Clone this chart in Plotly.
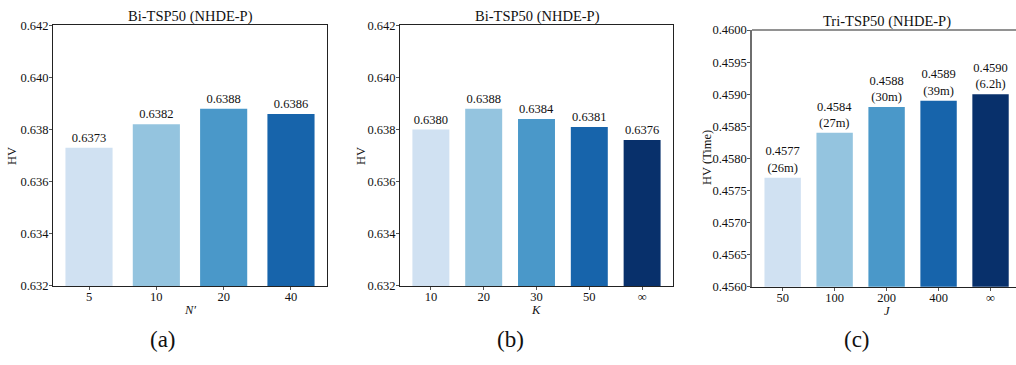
import plotly.graph_objects as go

# ---- data ----
cats_a = ["5", "10", "20", "40"]
hv_a = [0.6373, 0.6382, 0.6388, 0.6386]

cats_b = ["10", "20", "30", "50", "∞"]
hv_b = [0.6380, 0.6388, 0.6384, 0.6381, 0.6376]

cats_c = ["50", "100", "200", "400", "∞"]
hv_c = [0.4577, 0.4584, 0.4588, 0.4589, 0.4590]
time_c = ["26m", "27m", "30m", "39m", "6.2h"]

blues = ["#d0e1f2", "#94c4df", "#4a98c9", "#1764ab", "#08306b"]

W, H = 1016, 365
FONT = "Liberation Serif, Times New Roman, serif"

def px(x):
    return x / W

def py(y):
    return 1 - y / H

fig = go.Figure()

def add_bars(xaxis, yaxis, cats, vals, labels, colors):
    fig.add_trace(go.Bar(
        x=list(range(len(cats))), y=vals, width=0.7,
        marker=dict(color=colors, line=dict(width=0)),
        text=labels, textposition="outside", constraintext="none",
        cliponaxis=False,
        textfont=dict(family=FONT, size=12.5, color="#111"),
        xaxis=xaxis, yaxis=yaxis, showlegend=False, hoverinfo="skip",
    ))

add_bars("x", "y", cats_a, hv_a, [f"{v:.4f}" for v in hv_a], blues[:4])
add_bars("x2", "y2", cats_b, hv_b, [f"{v:.4f}" for v in hv_b], blues)
add_bars("x3", "y3", cats_c, hv_c,
         [f"{v:.4f}<br>({t})" for v, t in zip(hv_c, time_c)], blues)

tickfont = dict(family=FONT, size=12.5, color="#111")

def xax(domain, anchor, cats, rng, color, mirror=True):
    return dict(domain=domain, anchor=anchor, range=rng,
                tickmode="array", tickvals=list(range(len(cats))), ticktext=cats,
                showline=True, linecolor=color, linewidth=1, mirror=mirror,
                ticks="outside", ticklen=3, tickcolor="#555", tickwidth=1,
                showgrid=False, zeroline=False, tickfont=tickfont,
                ticklabelstandoff=-4, fixedrange=True)

def yax(domain, anchor, rng, dtick, fmt, color, mirror=True, width=1):
    return dict(domain=domain, anchor=anchor, range=rng, dtick=dtick, tick0=rng[0],
                tickformat=fmt, showline=True, linecolor=color, linewidth=width,
                mirror=mirror, ticks="outside", ticklen=3, tickcolor="#555",
                tickwidth=1, showgrid=False, zeroline=False, tickfont=tickfont,
                ticklabelstandoff=-2, fixedrange=True)

ydom_ab = [py(290), py(19)]
ydom_c = [py(291), py(24)]

fig.update_layout(
    width=W, height=H, margin=dict(l=0, r=0, t=0, b=0),
    paper_bgcolor="white", plot_bgcolor="white",
    font=dict(family=FONT, color="#111"),
    bargap=0.3,
    xaxis=xax([px(53), px(327)], "y", cats_a, [-0.535, 3.535], "#222"),
    yaxis=yax(ydom_ab, "x", [0.632, 0.642], 0.002, ".3f", "#222"),
    xaxis2=xax([px(400), px(673)], "y2", cats_b, [-0.585, 4.585], "#222"),
    yaxis2=yax(ydom_ab, "x2", [0.632, 0.642], 0.002, ".3f", "#222"),
    xaxis3=xax([px(752), 1.0], "y3", cats_c, [-0.59, 4.49], "#222", mirror=False),
    yaxis3=yax(ydom_c, "x3", [0.4560, 0.4600], 0.0005, ".4f", "#6e6e6e",
               mirror=False, width=1.5),
)

# top spine for (c)
fig.add_shape(type="line", xref="paper", yref="paper",
              x0=px(752), x1=1.0, y0=ydom_c[1], y1=ydom_c[1],
              line=dict(color="#6e6e6e", width=1.5))

annots = [
    # titles
    ("Bi-TSP50 (NHDE-P)", 190, 10, 14.5, 0, False),
    ("Bi-TSP50 (NHDE-P)", 537, 10, 14.5, 0, False),
    ("Tri-TSP50 (NHDE-P)", 887, 15, 14.5, 0, False),
    # y titles
    ("HV", 12, 155, 12.5, -90, False),
    ("HV", 361, 155, 12.5, -90, False),
    ("HV (Time)", 707, 157, 12.5, -90, False),
    # x titles
    ("N′", 190, 315, 12.5, 0, True),
    ("K", 536, 315, 12.5, 0, True),
    ("J", 887, 316.5, 12.5, 0, True),
    # sub captions
    ("(a)", 163, 346, 23, 0, False),
    ("(b)", 510, 346, 23, 0, False),
    ("(c)", 857, 346, 23, 0, False),
]
for text, x, y, size, ang, ital in annots:
    fig.add_annotation(
        text=f"<i>{text}</i>" if ital else text,
        xref="paper", yref="paper", x=px(x), y=py(y),
        xanchor="center", yanchor="middle", showarrow=False, borderpad=0,
        textangle=ang, font=dict(family=FONT, size=size, color="#111"),
    )

fig.write_html("out.html")
